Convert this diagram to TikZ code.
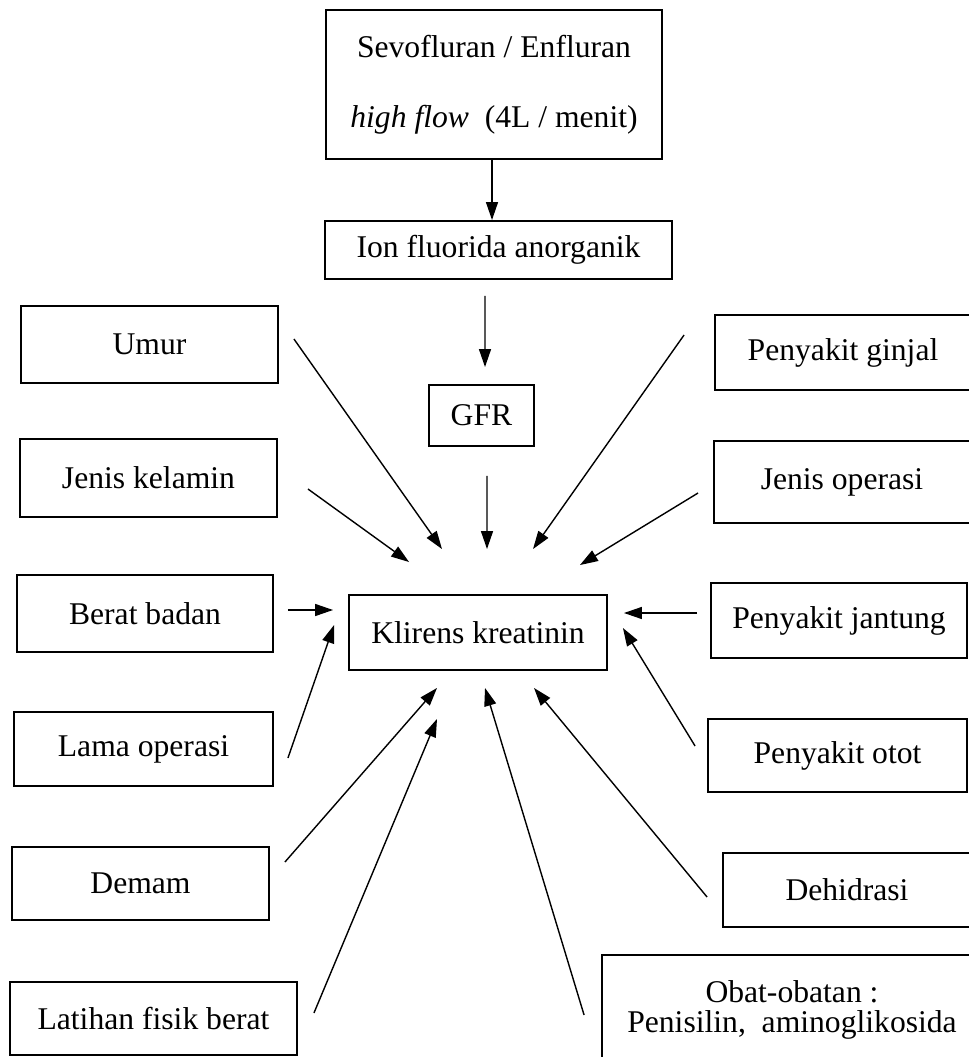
\documentclass[tikz,border=0pt]{standalone}
\usepackage{fontspec}
\setmainfont{Liberation Serif}
\usetikzlibrary{arrows.meta}

\begin{document}
\begin{tikzpicture}[x=0.02cm,y=-0.02cm,
	kotak/.style={draw, rectangle, line width=1.1pt, inner sep=0pt, text centered, font=\fontsize{18}{22}\selectfont},
	panah/.style={line width=0.8pt, -{Triangle[length=3.6mm,width=2.4mm]}}]
	
	\useasboundingbox (0,0) rectangle (968,1057);
	
	%Top blocks
	\node (Sevo) at (494,84.5) [kotak, minimum width=6.72cm, minimum height=2.98cm, align=center]{Sevofluran / Enfluran\\[18pt]\textit{high flow}\ \ (4L / menit)};
	\node (Ion) at (498.5,250) [kotak, minimum width=6.94cm, minimum height=1.16cm]{Ion fluorida anorganik};
	\node (GFR) at (481.5,415.5) [kotak, minimum width=2.1cm, minimum height=1.22cm]{GFR};
	
	%Center block
	\node (Klirens) at (478,632.5) [kotak, minimum width=5.16cm, minimum height=1.5cm]{Klirens kreatinin};
	
	%Left column
	\node (Umur) at (149.5,344.5) [kotak, minimum width=5.14cm, minimum height=1.54cm]{Umur};
	\node (Kelamin) at (148.5,478) [kotak, minimum width=5.14cm, minimum height=1.56cm]{Jenis kelamin};
	\node (Berat) at (145,613.5) [kotak, minimum width=5.12cm, minimum height=1.54cm]{Berat badan};
	\node (Lama) at (143.5,749) [kotak, minimum width=5.18cm, minimum height=1.48cm]{Lama operasi};
	\node (Demam) at (140.5,883.5) [kotak, minimum width=5.14cm, minimum height=1.46cm]{Demam};
	\node (Latihan) at (153.5,1018.5) [kotak, minimum width=5.74cm, minimum height=1.46cm]{Latihan fisik berat};
	
	%Right column
	\node (Ginjal) at (843,352.5) [kotak, minimum width=5.12cm, minimum height=1.5cm]{Penyakit ginjal};
	\node (JenisOp) at (842,482) [kotak, minimum width=5.12cm, minimum height=1.64cm]{Jenis operasi};
	\node (Jantung) at (839,620.5) [kotak, minimum width=5.12cm, minimum height=1.5cm]{Penyakit jantung};
	\node (Otot) at (837.5,755.5) [kotak, minimum width=5.18cm, minimum height=1.46cm]{Penyakit otot};
	\node (Dehidrasi) at (847,890) [kotak, minimum width=4.96cm, minimum height=1.48cm]{Dehidrasi};
	\node (Obat) at (792,1010) [kotak, minimum width=7.6cm, minimum height=2.2cm, align=center, font=\fontsize{18}{17}\selectfont]{Obat-obatan :\\Penisilin,\ \ aminoglikosida};
	
	%Arrows down the middle
	\draw[panah] ([shift={(-2,0)}]Sevo.south) -- ([shift={(-6.5,0)}]Ion.north);
	\draw[panah] ([shift={(-13.5,16)}]Ion.south) -- ([shift={(3.5,-17)}]GFR.north);
	\draw[panah] ([shift={(5.5,29)}]GFR.south) -- ([shift={(9,-45)}]Klirens.north);
	
	%Arrows from the left
	\draw[panah] ([shift={(15,-5.5)}]Umur.east) -- ([shift={(-36,-45)}]Klirens.north);
	\draw[panah] ([shift={(30,11)}]Kelamin.east) -- ([shift={(61,-32)}]Klirens.north west);
	\draw[panah] ([shift={(14,-3.5)}]Berat.east) -- ([shift={(-15,-22.5)}]Klirens.west);
	\draw[panah] ([shift={(14,9)}]Lama.east) -- ([shift={(-14,-7.5)}]Klirens.west);
	\draw[panah] ([shift={(15,-21.5)}]Demam.east) -- ([shift={(-41,17)}]Klirens.south);
	\draw[panah] ([shift={(16,-5.5)}]Latihan.east) -- ([shift={(-41,48)}]Klirens.south);
	
	%Arrows from the right
	\draw[panah] ([shift={(-30,-17.5)}]Ginjal.west) -- ([shift={(55,-45)}]Klirens.north);
	\draw[panah] ([shift={(-15,11)}]JenisOp.west) -- ([shift={(-28,-29)}]Klirens.north east);
	\draw[panah] ([shift={(-13,-7.5)}]Jantung.west) -- ([shift={(16,-19.5)}]Klirens.east);
	\draw[panah] ([shift={(-12,-9.5)}]Otot.west) -- ([shift={(15,-4.5)}]Klirens.east);
	\draw[panah] ([shift={(-15,7)}]Dehidrasi.west) -- ([shift={(56,17)}]Klirens.south);
	\draw[panah] ([shift={(-17,5)}]Obat.west) -- ([shift={(7,17)}]Klirens.south);
	
\end{tikzpicture}
\end{document}
